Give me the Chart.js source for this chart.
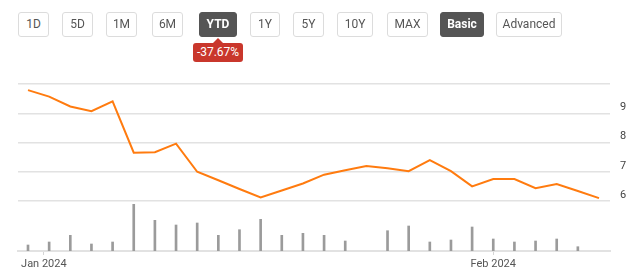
<!DOCTYPE html>
<html><head><meta charset="utf-8">
<script src="https://cdn.jsdelivr.net/npm/chart.js@4"></script>
<style>
html,body{margin:0;padding:0;background:#fff;width:640px;height:278px;overflow:hidden;font-family:Roboto,"Noto Sans",sans-serif;}
#wrap{position:relative;width:640px;height:278px;}
canvas{position:absolute;left:0;top:0;}
.btn{position:absolute;top:12px;height:23px;border:1px solid #dcdcdc;border-radius:3px;box-sizing:content-box;
 color:#555;font-size:12px;line-height:23px;text-align:center;background:#fff;}
.btn.on{background:#555;border-color:#555;color:#fff;font-weight:bold;}
#badge{position:absolute;left:193px;top:43px;width:50px;height:19px;background:#c9372c;border-radius:3px;color:#fff;
 font-size:12px;line-height:19px;text-align:center;}
#badge:before{content:"";position:absolute;left:20px;top:-5px;border-left:5px solid transparent;border-right:5px solid transparent;border-bottom:5px solid #c9372c;}
</style></head>
<body><div id="wrap"><canvas id="c" width="640" height="278"></canvas></div>
<script>
// ---- data ----
const dates = ['2023-12-29','2024-01-02','2024-01-03','2024-01-04','2024-01-05','2024-01-08','2024-01-09','2024-01-10',
 '2024-01-11','2024-01-12','2024-01-16','2024-01-17','2024-01-18','2024-01-19','2024-01-22','2024-01-23','2024-01-24',
 '2024-01-25','2024-01-26','2024-01-29','2024-01-30','2024-01-31','2024-02-01','2024-02-02','2024-02-05','2024-02-06',
 '2024-02-07','2024-02-08'];
const prices = [9.79,9.57,9.23,9.07,9.41,7.65,7.67,7.96,7.00,6.71,6.41,6.12,6.36,6.60,6.90,7.05,7.20,
 7.12,7.02,7.40,7.02,6.50,6.75,6.75,6.44,6.58,6.34,6.10];
const volumes = [0.60,0.90,1.57,0.70,0.90,4.67,3.07,2.60,2.80,1.57,2.13,3.17,1.57,1.77,1.57,1.00,null,
 2.03,2.50,0.90,1.10,2.40,1.20,0.90,1.00,1.20,0.43,null];
const priceTicks = [6,7,8,9,10];
const xTickDates = ['2024-01-01','2024-02-01'];
const xTickLabels = ['Jan 2024','Feb 2024'];
const rangeButtons = ['1D','5D','1M','6M','YTD','1Y','5Y','10Y','MAX','Basic','Advanced'];
const changeText = '-37.67%';

// ---- header controls ----
const btnLeft = [18,62,106,152,199,250,293,337,387,440,496];
const btnWidth = [29,29,29,29,36,28,29,34,39,42,64];
const wrap = document.getElementById('wrap');
rangeButtons.forEach((t,i)=>{
  const d=document.createElement('div');
  d.className='btn'+((t==='YTD'||t==='Basic')?' on':'');
  d.style.left=btnLeft[i]+'px'; d.style.width=btnWidth[i]+'px';
  d.textContent=t; wrap.appendChild(d);
});
const b=document.createElement('div'); b.id='badge'; b.textContent=changeText; wrap.appendChild(b);

// ---- helpers ----
const ts = dates.map(d=>Date.parse(d));
function dateToIndex(d){
  const t=Date.parse(d);
  for(let i=0;i<ts.length-1;i++){
    if(t>=ts[i]&&t<=ts[i+1]) return i+(t-ts[i])/(ts[i+1]-ts[i]);
  }
  return t<ts[0]?0:ts.length-1;
}
const xTickPos = xTickDates.map(dateToIndex);

const PRICE_TOP=10, PRICE_PANEL=117, VOL_PANEL=50; // px layout
const priceMin = 6 - VOL_PANEL/(PRICE_PANEL/4);
const volMax = 5.0*(PRICE_PANEL+VOL_PANEL)/VOL_PANEL;

new Chart(document.getElementById('c'),{
  data:{
    datasets:[
      {type:'line',data:prices.map((v,i)=>({x:i,y:v})),borderColor:'#ff7b0f',borderWidth:2,pointRadius:0,tension:0,yAxisID:'y',order:0},
      {type:'bar',data:volumes.map((v,i)=>({x:i,y:v})),backgroundColor:'#9b9b9b',barThickness:2,yAxisID:'y2',order:1}
    ]
  },
  options:{
    responsive:false,animation:false,
    layout:{padding:{left:18,top:84,right:0,bottom:0}},
    plugins:{legend:{display:false},tooltip:{enabled:false}},
    scales:{
      x:{type:'linear',offset:false,min:-0.473,max:dates.length-1+0.52,
        afterBuildTicks:s=>{s.ticks=xTickPos.map(v=>({value:v}));},
        afterFit:s=>{s.height=27;},
        ticks:{autoSkip:false,maxRotation:0,padding:3,color:'#555',font:{family:'Roboto',size:11},
          callback:(v,i)=>xTickLabels[i]},
        grid:{offset:false,drawOnChartArea:false,drawTicks:true,tickLength:4,color:'#d5d5d5',lineWidth:1},
        border:{display:true,color:'#e2e2e2',width:2}
      },
      y:{position:'right',min:priceMin,max:PRICE_TOP,
        afterBuildTicks:s=>{s.ticks=priceTicks.map(v=>({value:v}));},
        afterFit:s=>{s.width=30;},
        ticks:{padding:10,labelOffset:-6,color:'#444',font:{family:'Roboto',size:11},
          callback:v=>v===PRICE_TOP?'':String(v)},
        grid:{color:'#e2e2e2',lineWidth:1.5,drawTicks:false},
        border:{display:false}
      },
      y2:{display:false,min:0,max:volMax}
    }
  }
});
</script></body></html>
